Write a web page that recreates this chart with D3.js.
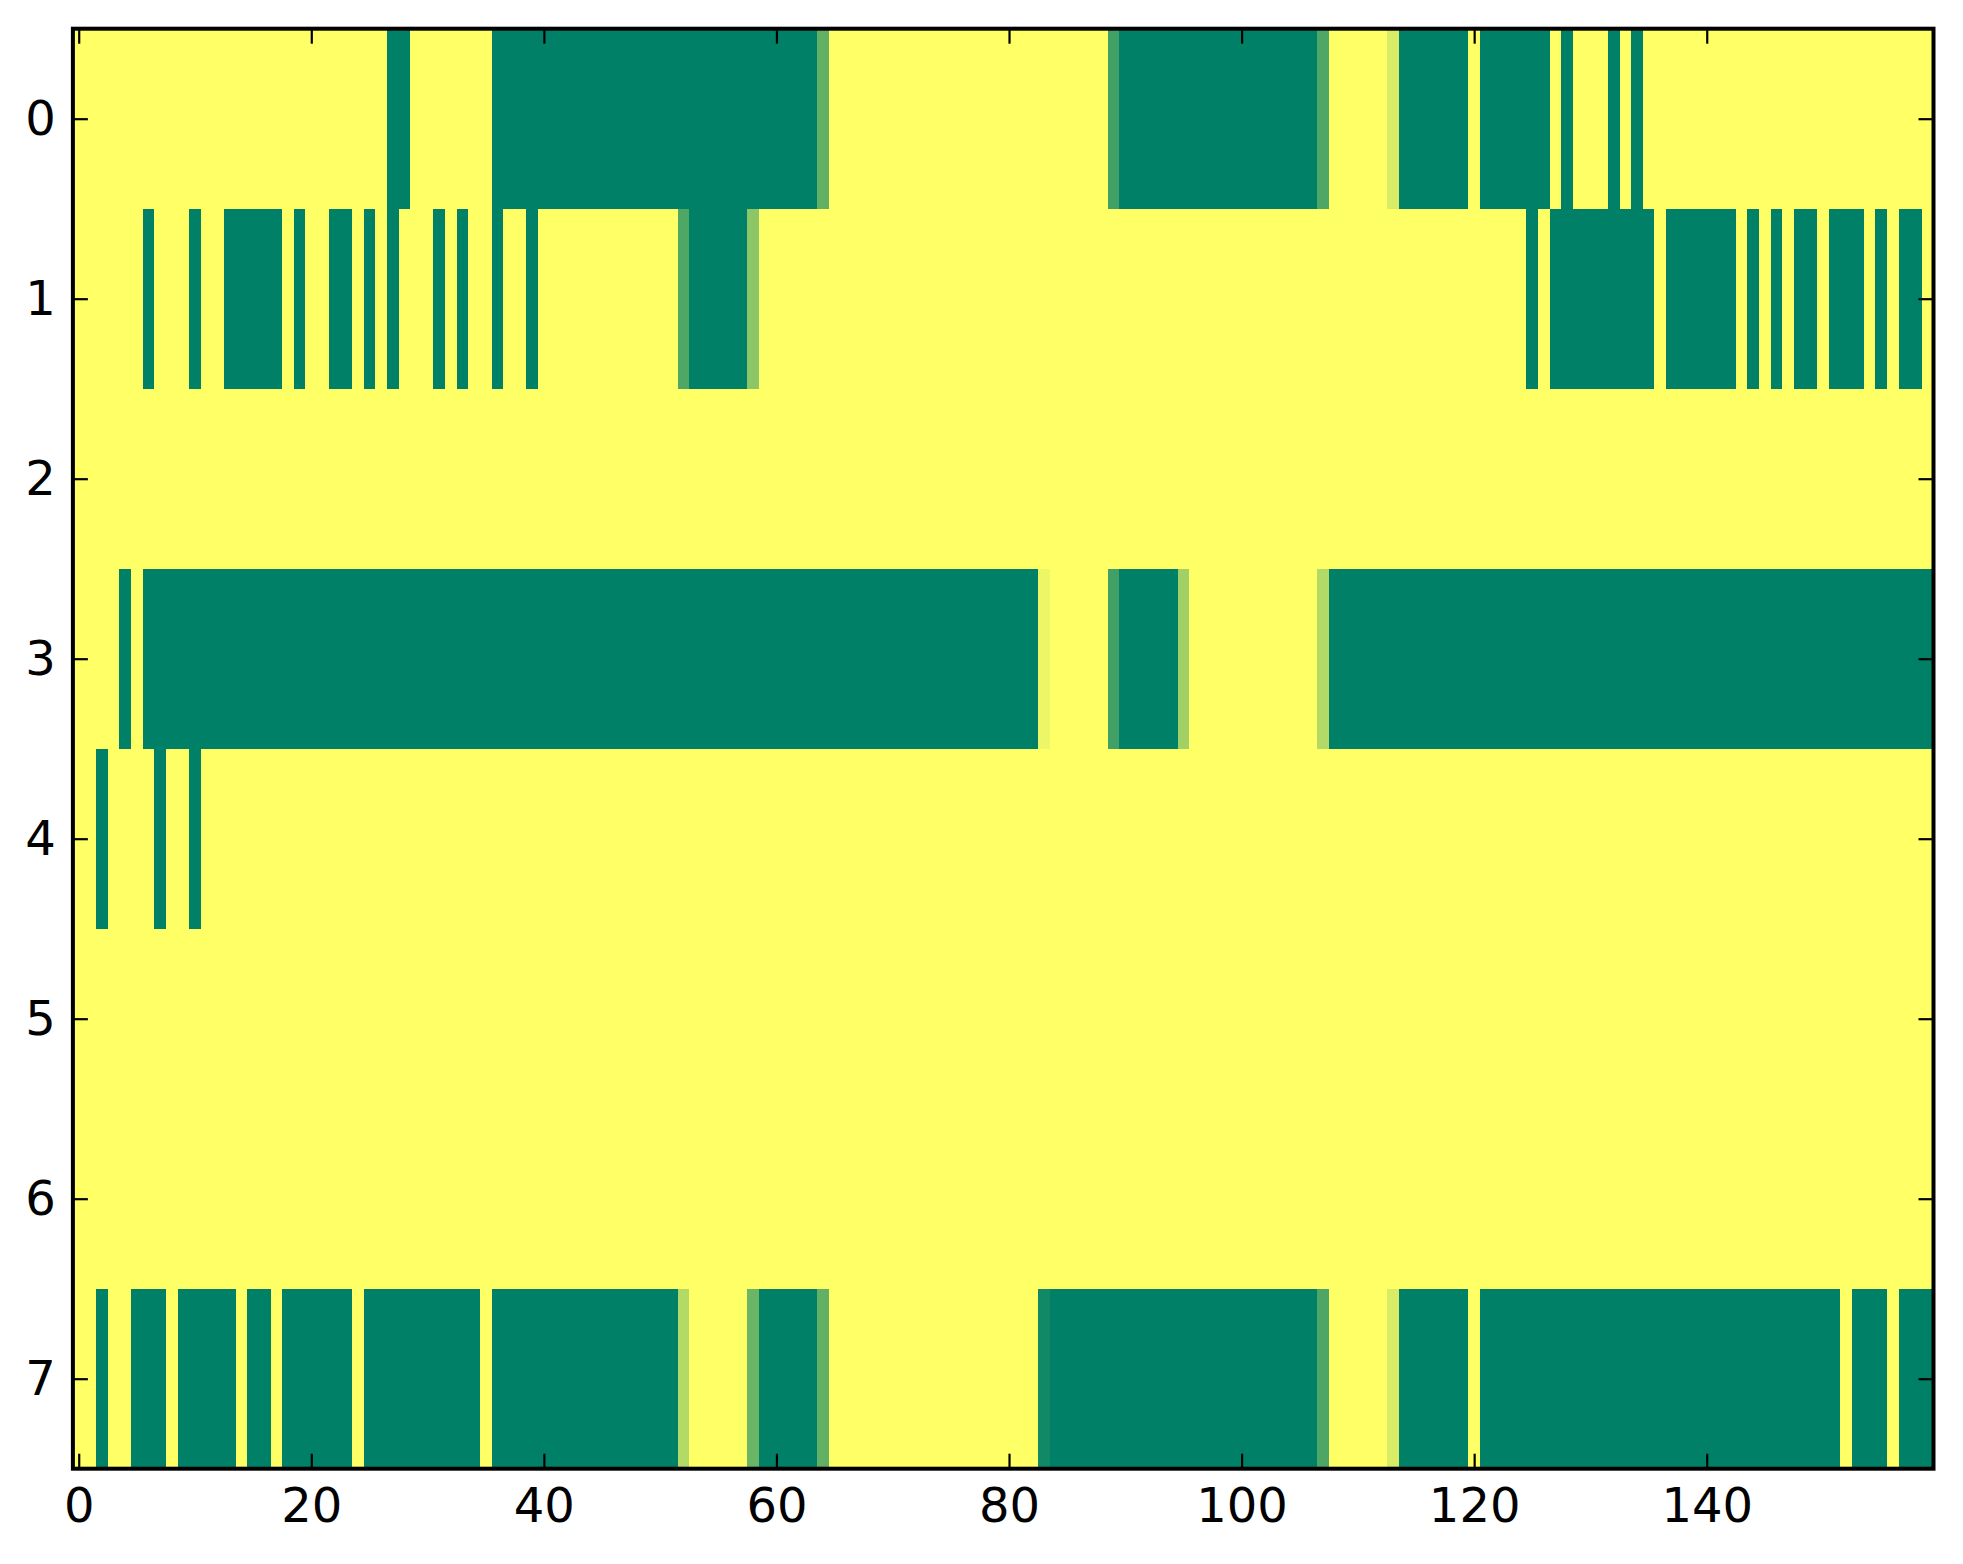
<!DOCTYPE html>
<html>
<head>
<meta charset="utf-8">
<script src="https://cdn.jsdelivr.net/npm/d3@7"></script>
<style>
  html, body { margin: 0; padding: 0; background: #fff; }
  svg { display: block; }
  .tick text { font-family: "DejaVu Sans", sans-serif; font-size: 48px; fill: #000; }
</style>
</head>
<body>
<svg id="chart"></svg>
<script>
/*** DATA (one array per row, 160 columns each) ***/
const row0 = [
  1,1,1,1,1,1,1,1,1,1,1,1,1,1,1,1,1,1,1,1,
  1,1,1,1,1,1,1,0,0,1,1,1,1,1,1,1,0,0,0,0,
  0,0,0,0,0,0,0,0,0,0,0,0,0,0,0,0,0,0,0,0,
  0,0,0,0,.38,1,1,1,1,1,1,1,1,1,1,1,1,1,1,1,
  1,1,1,1,1,1,1,1,1,.25,0,0,0,0,0,0,0,0,0,0,
  0,0,0,0,0,0,0,.31,1,1,1,1,1,.85,0,0,0,0,0,0,
  1,0,0,0,0,0,0,1,0,1,1,1,0,1,0,1,1,1,1,1,
  1,1,1,1,1,1,1,1,1,1,1,1,1,1,1,1,1,1,1,1
];
const row1 = [
  1,1,1,1,1,1,0,1,1,1,0,1,1,0,0,0,0,0,1,0,
  1,1,0,0,1,0,1,0,1,1,1,0,1,0,1,1,0,1,1,0,
  1,1,1,1,1,1,1,1,1,1,1,1,.31,0,0,0,0,0,.55,1,
  1,1,1,1,1,1,1,1,1,1,1,1,1,1,1,1,1,1,1,1,
  1,1,1,1,1,1,1,1,1,1,1,1,1,1,1,1,1,1,1,1,
  1,1,1,1,1,1,1,1,1,1,1,1,1,1,1,1,1,1,1,1,
  1,1,1,1,1,0,1,0,0,0,0,0,0,0,0,0,1,0,0,0,
  0,0,0,1,0,1,0,1,0,0,1,0,0,0,1,0,1,0,0,1
];
const row2 = [
  1,1,1,1,1,1,1,1,1,1,1,1,1,1,1,1,1,1,1,1,
  1,1,1,1,1,1,1,1,1,1,1,1,1,1,1,1,1,1,1,1,
  1,1,1,1,1,1,1,1,1,1,1,1,1,1,1,1,1,1,1,1,
  1,1,1,1,1,1,1,1,1,1,1,1,1,1,1,1,1,1,1,1,
  1,1,1,1,1,1,1,1,1,1,1,1,1,1,1,1,1,1,1,1,
  1,1,1,1,1,1,1,1,1,1,1,1,1,1,1,1,1,1,1,1,
  1,1,1,1,1,1,1,1,1,1,1,1,1,1,1,1,1,1,1,1,
  1,1,1,1,1,1,1,1,1,1,1,1,1,1,1,1,1,1,1,1
];
const row3 = [
  1,1,1,1,0,1,0,0,0,0,0,0,0,0,0,0,0,0,0,0,
  0,0,0,0,0,0,0,0,0,0,0,0,0,0,0,0,0,0,0,0,
  0,0,0,0,0,0,0,0,0,0,0,0,0,0,0,0,0,0,0,0,
  0,0,0,0,0,0,0,0,0,0,0,0,0,0,0,0,0,0,0,0,
  0,0,0,.93,1,1,1,1,1,.25,0,0,0,0,0,.63,1,1,1,1,
  1,1,1,1,1,1,1,.7,0,0,0,0,0,0,0,0,0,0,0,0,
  0,0,0,0,0,0,0,0,0,0,0,0,0,0,0,0,0,0,0,0,
  0,0,0,0,0,0,0,0,0,0,0,0,0,0,0,0,0,0,0,0
];
const row4 = [
  1,1,0,1,1,1,1,0,1,1,0,1,1,1,1,1,1,1,1,1,
  1,1,1,1,1,1,1,1,1,1,1,1,1,1,1,1,1,1,1,1,
  1,1,1,1,1,1,1,1,1,1,1,1,1,1,1,1,1,1,1,1,
  1,1,1,1,1,1,1,1,1,1,1,1,1,1,1,1,1,1,1,1,
  1,1,1,1,1,1,1,1,1,1,1,1,1,1,1,1,1,1,1,1,
  1,1,1,1,1,1,1,1,1,1,1,1,1,1,1,1,1,1,1,1,
  1,1,1,1,1,1,1,1,1,1,1,1,1,1,1,1,1,1,1,1,
  1,1,1,1,1,1,1,1,1,1,1,1,1,1,1,1,1,1,1,1
];
const row5 = [
  1,1,1,1,1,1,1,1,1,1,1,1,1,1,1,1,1,1,1,1,
  1,1,1,1,1,1,1,1,1,1,1,1,1,1,1,1,1,1,1,1,
  1,1,1,1,1,1,1,1,1,1,1,1,1,1,1,1,1,1,1,1,
  1,1,1,1,1,1,1,1,1,1,1,1,1,1,1,1,1,1,1,1,
  1,1,1,1,1,1,1,1,1,1,1,1,1,1,1,1,1,1,1,1,
  1,1,1,1,1,1,1,1,1,1,1,1,1,1,1,1,1,1,1,1,
  1,1,1,1,1,1,1,1,1,1,1,1,1,1,1,1,1,1,1,1,
  1,1,1,1,1,1,1,1,1,1,1,1,1,1,1,1,1,1,1,1
];
const row6 = [
  1,1,1,1,1,1,1,1,1,1,1,1,1,1,1,1,1,1,1,1,
  1,1,1,1,1,1,1,1,1,1,1,1,1,1,1,1,1,1,1,1,
  1,1,1,1,1,1,1,1,1,1,1,1,1,1,1,1,1,1,1,1,
  1,1,1,1,1,1,1,1,1,1,1,1,1,1,1,1,1,1,1,1,
  1,1,1,1,1,1,1,1,1,1,1,1,1,1,1,1,1,1,1,1,
  1,1,1,1,1,1,1,1,1,1,1,1,1,1,1,1,1,1,1,1,
  1,1,1,1,1,1,1,1,1,1,1,1,1,1,1,1,1,1,1,1,
  1,1,1,1,1,1,1,1,1,1,1,1,1,1,1,1,1,1,1,1
];
const row7 = [
  1,1,0,1,1,0,0,0,1,0,0,0,0,0,1,0,0,1,0,0,
  0,0,0,0,1,0,0,0,0,0,0,0,0,0,0,1,0,0,0,0,
  0,0,0,0,0,0,0,0,0,0,0,0,.7,1,1,1,1,1,.42,0,
  0,0,0,0,.38,1,1,1,1,1,1,1,1,1,1,1,1,1,1,1,
  1,1,1,.07,0,0,0,0,0,0,0,0,0,0,0,0,0,0,0,0,
  0,0,0,0,0,0,0,.3,1,1,1,1,1,.85,0,0,0,0,0,0,
  1,0,0,0,0,0,0,0,0,0,0,0,0,0,0,0,0,0,0,0,
  0,0,0,0,0,0,0,0,0,0,0,0,1,0,0,0,1,0,0,0
];
const rows = [row0, row1, row2, row3, row4, row5, row6, row7];
const xTicks = [0, 20, 40, 60, 80, 100, 120, 140];
const yTicks = [0, 1, 2, 3, 4, 5, 6, 7];

/*** DIMENSIONS ***/
const W = 1963, H = 1564;
const plot = {left: 72.9, right: 1933.5, top: 28.7, bottom: 1468.7};
const nCols = row0.length, nRows = rows.length;

const svg = d3.select('#chart').attr('width', W).attr('height', H);
svg.append('rect').attr('width', W).attr('height', H).attr('fill', '#fff');

// SCALES (cells centred on integer coordinates, like imshow)
const x = d3.scaleLinear().domain([-0.5, nCols - 0.5]).range([plot.left, plot.right]);
const y = d3.scaleLinear().domain([-0.5, nRows - 0.5]).range([plot.top, plot.bottom]);
const color = d3.scaleLinear().domain([0, 1]).range(['#008066', '#ffff66']);   // "summer"

// CELLS
const cells = rows.flatMap((r, ri) => r.map((v, ci) => ({row: ri, col: ci, v})));
svg.append('g')
  .selectAll('rect')
  .data(cells)
  .join('rect')
    .attr('x', d => x(d.col - 0.5))
    .attr('y', d => y(d.row - 0.5))
    .attr('width', d => x(d.col + 0.5) - x(d.col - 0.5) + 0.3)
    .attr('height', d => y(d.row + 0.5) - y(d.row - 0.5) + 0.3)
    .attr('fill', d => color(d.v))
    .attr('shape-rendering', 'crispEdges');

// AXES (inward ticks on all four sides)
const tickLen = 15;
function styleAxis(g) {
  g.select('.domain').remove();
  g.selectAll('.tick line').attr('stroke', '#000').attr('stroke-width', 2.2);
}
svg.append('g')
    .attr('transform', `translate(0,${plot.bottom})`)
    .call(d3.axisBottom(x).tickValues(xTicks).tickSizeInner(-tickLen).tickSizeOuter(0).tickPadding(19))
    .call(styleAxis);
svg.append('g')
    .attr('transform', `translate(0,${plot.top})`)
    .call(d3.axisTop(x).tickValues(xTicks).tickSizeInner(-tickLen).tickSizeOuter(0).tickFormat(''))
    .call(styleAxis);
svg.append('g')
    .attr('transform', `translate(${plot.left},0)`)
    .call(d3.axisLeft(y).tickValues(yTicks).tickSizeInner(-tickLen).tickSizeOuter(0).tickPadding(17))
    .call(styleAxis);
svg.append('g')
    .attr('transform', `translate(${plot.right},0)`)
    .call(d3.axisRight(y).tickValues(yTicks).tickSizeInner(-tickLen).tickSizeOuter(0).tickFormat(''))
    .call(styleAxis);
svg.selectAll('.tick text').attr('fill', '#000');

// FRAME
svg.append('rect')
    .attr('x', plot.left).attr('y', plot.top)
    .attr('width', plot.right - plot.left).attr('height', plot.bottom - plot.top)
    .attr('fill', 'none').attr('stroke', '#000').attr('stroke-width', 4);
</script>
</body>
</html>
